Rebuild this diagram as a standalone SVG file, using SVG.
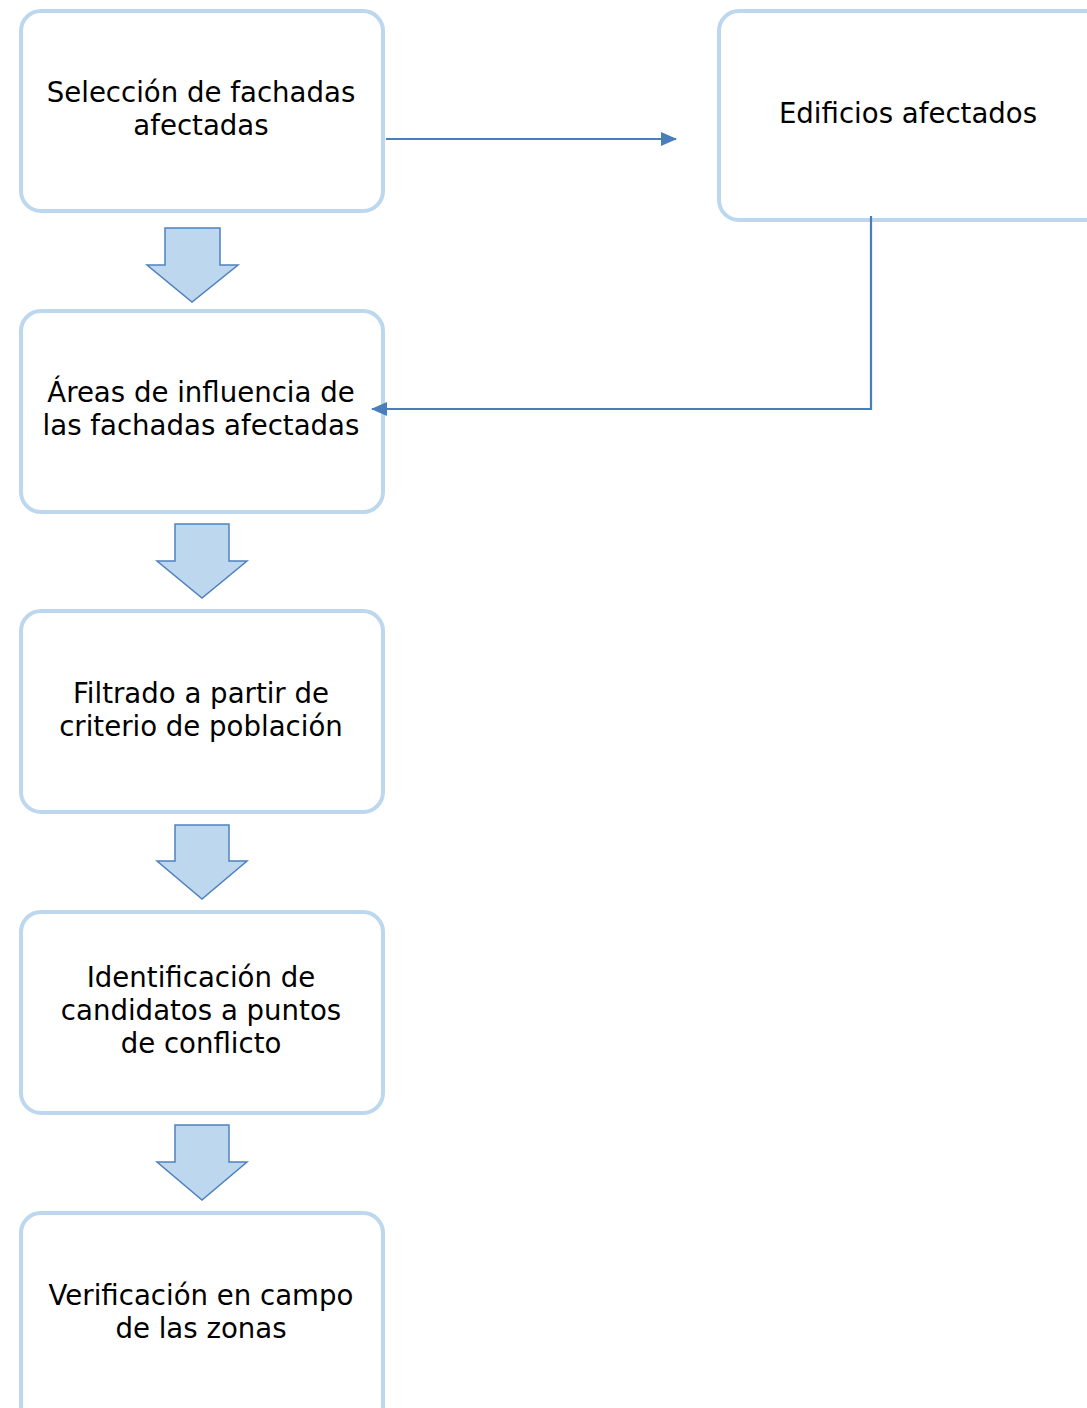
<svg xmlns="http://www.w3.org/2000/svg" width="1087" height="1408" viewBox="0 0 1087 1408">
<style>
.box{fill:#fff;stroke:#BDD7EE;stroke-width:4}
.blk{fill:#BDD7EE;stroke:#4F81BD;stroke-width:1.5;stroke-linejoin:miter}
.lbl{font-family:"DejaVu Sans","Noto Sans",sans-serif;font-size:27.6px;fill:#000;text-anchor:middle}
.con{fill:none;stroke:#4A7EBB;stroke-width:2.2}
</style>
<defs>
<marker id="ah2" markerWidth="16" markerHeight="14" refX="15" refY="7" orient="auto" markerUnits="userSpaceOnUse">
<path d="M0,0 L16,7 L0,14 Z" fill="#4A7EBB"/>
</marker>
</defs>
<g id="n1"><rect class="box" x="21" y="11" width="362" height="200" rx="20"/>
<text class="lbl" x="201" y="102">Selección de fachadas</text>
<text class="lbl" x="201" y="135">afectadas</text></g>
<g id="n2"><rect class="box" x="719" y="11" width="390" height="209" rx="20"/>
<text class="lbl" x="908" y="123">Edificios afectados</text></g>
<g id="n3"><rect class="box" x="21" y="311" width="362" height="201" rx="20"/>
<text class="lbl" x="201" y="402">Áreas de influencia de</text>
<text class="lbl" x="201" y="435">las fachadas afectadas</text></g>
<g id="n4"><rect class="box" x="21" y="611" width="362" height="201" rx="20"/>
<text class="lbl" x="201" y="703">Filtrado a partir de</text>
<text class="lbl" x="201" y="736">criterio de población</text></g>
<g id="n5"><rect class="box" x="21" y="912" width="362" height="201" rx="20"/>
<text class="lbl" x="201" y="987">Identificación de</text>
<text class="lbl" x="201" y="1020">candidatos a puntos</text>
<text class="lbl" x="201" y="1053">de conflicto</text></g>
<g id="n6"><rect class="box" x="21" y="1213" width="362" height="220" rx="20"/>
<text class="lbl" x="201" y="1305">Verificación en campo</text>
<text class="lbl" x="201" y="1338">de las zonas</text></g>
<g id="connectors">
<path class="blk" d="M165,228 H220 V265 H238 L192,302 L147,265 H165 Z"/>
<path class="blk" d="M175,524 H229 V561 H247 L202,598 L157,561 H175 Z"/>
<path class="blk" d="M175,825 H229 V861 H247 L202,899 L157,861 H175 Z"/>
<path class="blk" d="M175,1125 H229 V1162 H247 L202,1200 L157,1162 H175 Z"/>
<path class="con" d="M386,139 H676" marker-end="url(#ah2)"/>
<path class="con" d="M871,216 V409 H372" marker-end="url(#ah2)"/>
</g>
</svg>
